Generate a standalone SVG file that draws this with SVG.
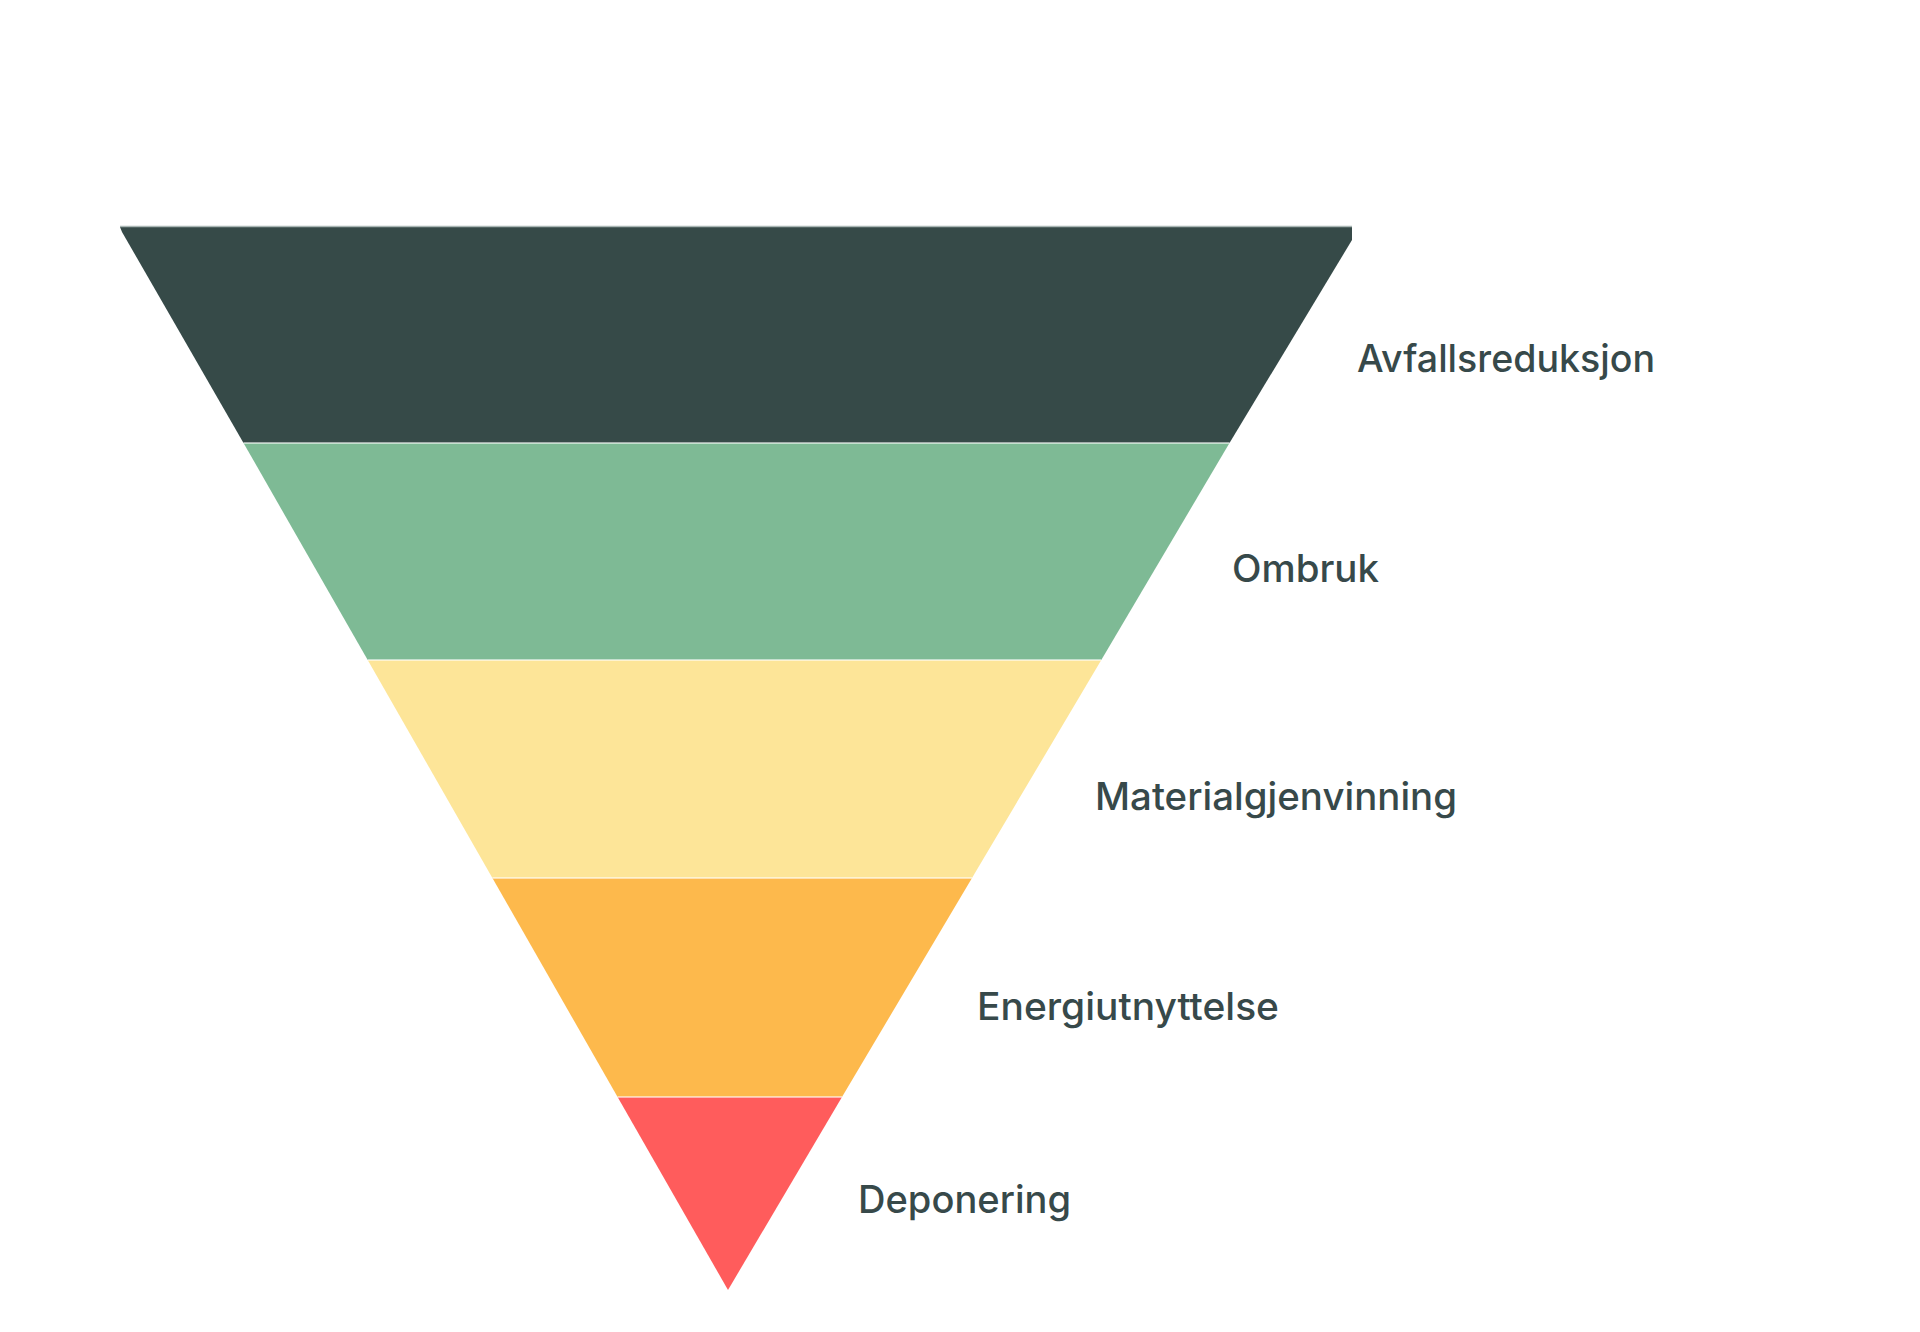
<svg xmlns="http://www.w3.org/2000/svg" width="1920" height="1332" viewBox="0 0 1920 1332">
<style>
.lbl{font-family:Inter,"Liberation Sans",sans-serif;font-weight:500;font-size:38px;fill:#37494a}
.sep{stroke:#ffffff;stroke-opacity:0.55;stroke-width:2}
</style>
<rect width="1920" height="1332" fill="#ffffff"/>
<g id="band-avfallsreduksjon">
<polygon points="120,227 1352,227 1352,240 1229.5,443 243.5,443 122,232" fill="#364a48"/>
<line x1="120" y1="226.5" x2="1352" y2="226.5" stroke="#aab7b5" stroke-width="1.5"/>
</g>
<g id="band-ombruk"><polygon points="243.5,443 1229.5,443 1101.3,660 367.7,660" fill="#7eba95"/></g>
<g id="band-materialgjenvinning"><polygon points="367.7,660 1101.3,660 972,878 492.4,878" fill="#fde598"/></g>
<g id="band-energiutnyttelse"><polygon points="492.4,878 972,878 842,1097 617.6,1097" fill="#fdb94c"/></g>
<g id="band-deponering"><polygon points="617.6,1097 842,1097 728,1290" fill="#ff5c5c"/></g>
<g id="separators">
<line class="sep" x1="243.5" y1="443" x2="1229.5" y2="443"/>
<line class="sep" x1="367.7" y1="660" x2="1101.3" y2="660"/>
<line class="sep" x1="492.4" y1="878" x2="972" y2="878"/>
<line class="sep" x1="617.6" y1="1097" x2="842" y2="1097"/>
</g>
<g id="labels">
<text class="lbl" x="1357" y="372" textLength="298" lengthAdjust="spacingAndGlyphs">Avfallsreduksjon</text>
<text class="lbl" x="1232" y="582" textLength="147" lengthAdjust="spacingAndGlyphs">Ombruk</text>
<text class="lbl" x="1095" y="810" textLength="362" lengthAdjust="spacingAndGlyphs">Materialgjenvinning</text>
<text class="lbl" x="977" y="1020" textLength="302" lengthAdjust="spacingAndGlyphs">Energiutnyttelse</text>
<text class="lbl" x="858" y="1213" textLength="213" lengthAdjust="spacingAndGlyphs">Deponering</text>
</g>
</svg>
